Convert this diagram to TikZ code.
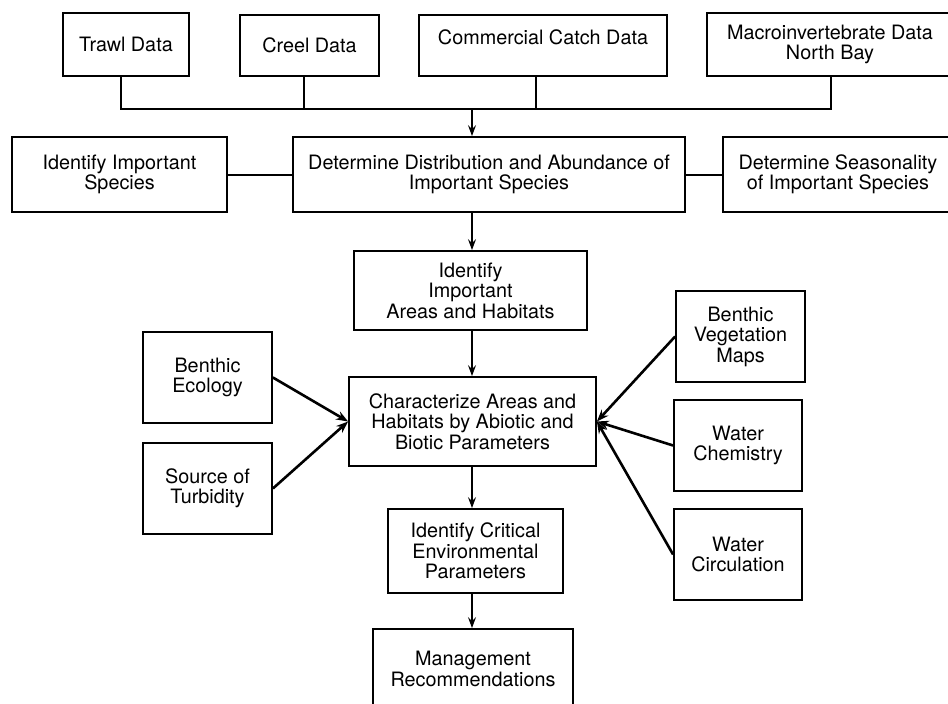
\documentclass[tikz,border=0pt]{standalone}
\usepackage{fontspec}
\setmainfont{TeX Gyre Heros}
\usetikzlibrary{arrows.meta}
\begin{document}
\begin{tikzpicture}[x=1pt,y=-1pt]
\tikzset{
 box/.style={draw, line width=1.8pt, align=center, inner sep=0pt,
   font=\fontsize{19.8}{20.5}\selectfont},
 link/.style={line width=2pt},
 arr/.style={line width=2pt, -{Stealth[length=11pt,width=8pt,inset=4pt]}},
 diag/.style={line width=2.6pt, -{Stealth[length=12pt,width=9pt,inset=4pt]}},
}
\useasboundingbox (0,0) rectangle (948,704);
\clip (0,0) rectangle (948,704);

% top row
\node[box, minimum width=126pt, minimum height=63pt] (trawl) at (126,44.5) {Trawl Data};
\node[box, minimum width=139pt, minimum height=61pt] (creel) at (309.5,45.5) {Creel Data};
\node[box, minimum width=248pt, minimum height=61pt] (comm) at (543,45.5) {Commercial Catch Data\\[-9pt]\strut};
\node[box, minimum width=246pt, minimum height=63pt] (macro) at (830,44.5) {Macroinvertebrate Data\\North Bay};

% second row
\node[box, minimum width=215pt, minimum height=75pt] (species) at (119.5,174.5) {Identify Important\\Species};
\node[box, minimum width=392pt, minimum height=75pt] (dist) at (489,174.5) {Determine Distribution and Abundance of\\Important Species};
\node[box, minimum width=230pt, minimum height=75pt] (season) at (838,174.5) {Determine Seasonality\\of Important Species};

% spine
\node[box, minimum width=233pt, minimum height=79pt] (areas) at (470.5,290.5) {Identify\\Important\\Areas and Habitats};
\node[box, minimum width=247pt, minimum height=89pt] (char) at (472.5,421.5) {Characterize Areas and\\Habitats by Abiotic and\\Biotic Parameters};
\node[box, minimum width=175pt, minimum height=84pt] (crit) at (475.5,551) {Identify Critical\\Environmental\\Parameters};
\node[box, minimum width=200pt, minimum height=80pt] (mgmt) at (473,669) {Management\\Recommendations};

% side boxes
\node[box, minimum width=129pt, minimum height=91pt] (beneco) at (207.5,377.5) {Benthic\\Ecology};
\node[box, minimum width=129pt, minimum height=91pt] (source) at (207.5,488.5) {Source of\\Turbidity};
\node[box, minimum width=129pt, minimum height=91pt] (benveg) at (740.5,336.5) {Benthic\\Vegetation\\Maps};
\node[box, minimum width=128pt, minimum height=91pt] (chem) at (738,445.5) {Water\\Chemistry};
\node[box, minimum width=128pt, minimum height=91pt] (circ) at (738,554.5) {Water\\Circulation};

% bus
\coordinate (busL) at (121,109);
\coordinate (busR) at (831,109);
\coordinate (jc) at (304,109);
\coordinate (jm) at (536,109);
\coordinate (spine) at (472,109);
\draw[link] (trawl.south -| busL) -- (busL) -- (busR) -- (macro.south -| busR);
\draw[link] (creel.south -| jc) -- (jc);
\draw[link] (comm.south -| jm) -- (jm);
\draw[arr] (spine) -- (spine |- dist.north);

\draw[link] (species.east) -- (dist.west);
\draw[link] (dist.east) -- (season.west);

\draw[arr] (dist.south -| spine) -- (areas.north -| spine);
\draw[arr] (areas.south -| spine) -- (char.north -| spine);
\draw[arr] (char.south -| spine) -- (crit.north -| spine);
\draw[arr] (crit.south -| spine) -- (mgmt.north -| spine);

\draw[diag] (beneco.east) -- (char.west);
\draw[diag] (source.east) -- (char.west);
\draw[diag] (benveg.west) -- (char.east);
\draw[diag] (chem.west) -- (char.east);
\draw[diag] (circ.west) -- (char.east);
\end{tikzpicture}
\end{document}
